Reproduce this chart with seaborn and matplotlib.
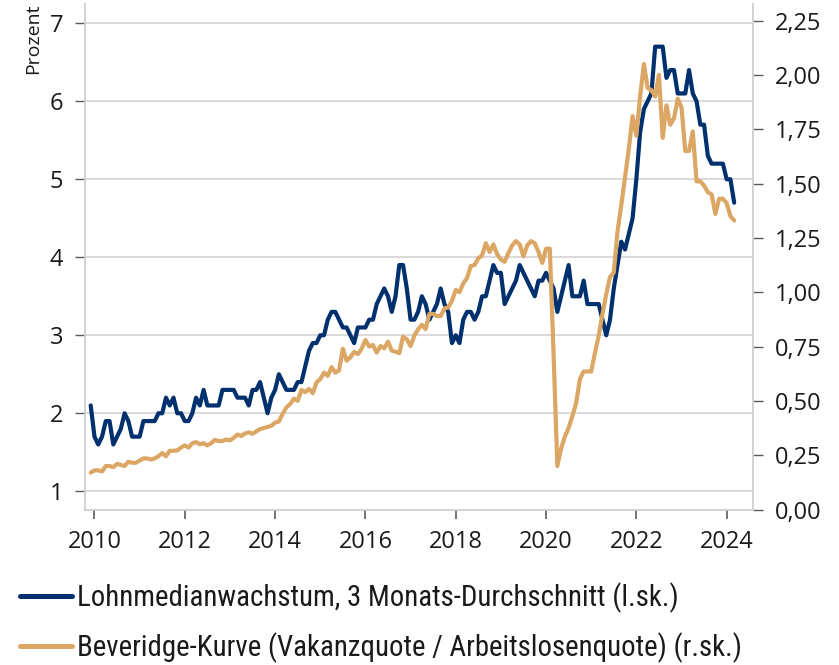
import numpy as np
import pandas as pd
import matplotlib
matplotlib.use("Agg")
import matplotlib.pyplot as plt
import seaborn as sns
from matplotlib import font_manager as fm
from matplotlib.ticker import FixedLocator, FuncFormatter
from matplotlib.lines import Line2D

# ---------------- data (monthly, Dec 2009 .. Mar 2024) ----------------
start_month = "2009-12-01"

lohn = [
    2.1, 1.7, 1.6, 1.7, 1.9, 1.9, 1.6, 1.7, 1.8, 2.0,
    1.9, 1.7, 1.7, 1.7, 1.9, 1.9, 1.9, 1.9, 2.0, 2.0,
    2.2, 2.1, 2.2, 2.0, 2.0, 1.9, 1.9, 2.0, 2.2, 2.1,
    2.3, 2.1, 2.1, 2.1, 2.1, 2.3, 2.3, 2.3, 2.3, 2.2,
    2.2, 2.2, 2.1, 2.3, 2.3, 2.4, 2.2, 2.0, 2.2, 2.3,
    2.5, 2.4, 2.3, 2.3, 2.3, 2.4, 2.4, 2.6, 2.8, 2.9,
    2.9, 3.0, 3.0, 3.2, 3.3, 3.3, 3.2, 3.1, 3.1, 3.0,
    2.9, 3.1, 3.1, 3.1, 3.2, 3.2, 3.4, 3.5, 3.6, 3.5,
    3.3, 3.5, 3.9, 3.9, 3.6, 3.2, 3.2, 3.3, 3.5, 3.4,
    3.2, 3.3, 3.4, 3.6, 3.4, 3.3, 2.9, 3.0, 2.9, 3.2,
    3.3, 3.3, 3.2, 3.3, 3.5, 3.5, 3.7, 3.9, 3.8, 3.8,
    3.4, 3.5, 3.6, 3.7, 3.9, 3.8, 3.7, 3.6, 3.5, 3.7,
    3.7, 3.8, 3.7, 3.6, 3.3, 3.5, 3.7, 3.9, 3.5, 3.5,
    3.5, 3.7, 3.4, 3.4, 3.4, 3.4, 3.2, 3.0, 3.2, 3.6,
    3.9, 4.2, 4.1, 4.3, 4.5, 5.0, 5.6, 5.9, 6.0, 6.1,
    6.7, 6.7, 6.7, 6.3, 6.4, 6.4, 6.1, 6.1, 6.1, 6.4,
    6.1, 6.0, 5.7, 5.7, 5.3, 5.2, 5.2, 5.2, 5.2, 5.0,
    5.0, 4.7,
]

beveridge = [
    0.170, 0.180, 0.180, 0.175, 0.200, 0.200, 0.195, 0.210, 0.205, 0.200,
    0.220, 0.215, 0.215, 0.225, 0.235, 0.235, 0.230, 0.235, 0.245, 0.260,
    0.245, 0.270, 0.270, 0.272, 0.285, 0.295, 0.285, 0.305, 0.310, 0.300,
    0.305, 0.295, 0.305, 0.320, 0.315, 0.315, 0.322, 0.318, 0.330, 0.345,
    0.338, 0.350, 0.355, 0.348, 0.360, 0.370, 0.375, 0.380, 0.385, 0.400,
    0.405, 0.440, 0.470, 0.485, 0.510, 0.500, 0.550, 0.540, 0.555, 0.535,
    0.585, 0.600, 0.630, 0.615, 0.655, 0.630, 0.640, 0.740, 0.685, 0.700,
    0.725, 0.715, 0.740, 0.780, 0.750, 0.757, 0.722, 0.752, 0.742, 0.772,
    0.731, 0.726, 0.719, 0.795, 0.783, 0.752, 0.800, 0.830, 0.850, 0.830,
    0.900, 0.900, 0.890, 0.890, 0.925, 0.930, 0.960, 1.010, 1.000, 1.040,
    1.065, 1.120, 1.125, 1.155, 1.170, 1.225, 1.185, 1.220, 1.175, 1.150,
    1.140, 1.180, 1.215, 1.235, 1.220, 1.165, 1.215, 1.235, 1.225, 1.185,
    1.135, 1.200, 1.200, 0.720, 0.200, 0.280, 0.335, 0.375, 0.430, 0.490,
    0.600, 0.635, 0.635, 0.635, 0.720, 0.800, 0.900, 0.990, 1.070, 1.090,
    1.280, 1.400, 1.530, 1.660, 1.810, 1.720, 1.900, 2.050, 1.940, 1.930,
    1.900, 2.000, 1.710, 1.860, 1.770, 1.800, 1.890, 1.850, 1.650, 1.650,
    1.740, 1.510, 1.510, 1.490, 1.460, 1.450, 1.360, 1.430, 1.430, 1.410,
    1.350, 1.330,
]

x_ticks = [2010, 2012, 2014, 2016, 2018, 2020, 2022, 2024]
left_ticks = [1, 2, 3, 4, 5, 6, 7]
right_ticks = [0.0, 0.25, 0.5, 0.75, 1.0, 1.25, 1.5, 1.75, 2.0, 2.25]

label_lohn = "Lohnmedianwachstum, 3 Monats-Durchschnitt (l.sk.)"
label_bev = "Beveridge-Kurve (Vakanzquote / Arbeitslosenquote) (r.sk.)"
left_unit = "Prozent"

BLUE = "#00306E"
TAN = "#DCA664"
GRID = "#d9d9d9"
SPINE = "#cfcfcf"
TICKC = "#5a5a5a"
TEXTC = "#1a1a1a"

# ---------------- fonts ----------------
sns.set_style("white")
names = {f.name for f in fm.fontManager.ttflist}
main_font = "Open Sans" if "Open Sans" in names else "DejaVu Sans"
leg_font = main_font
for cand in ["Liberation Sans Narrow", "Roboto Condensed", "Open Sans Condensed",
             "DejaVu Sans Condensed", "Noto Sans Condensed"]:
    if cand in names:
        leg_font = cand
        break
plt.rcParams["font.family"] = [main_font, "DejaVu Sans"]

# ---------------- frame ----------------
months = pd.date_range(start_month, periods=len(lohn), freq="MS")
t = months.year + (months.month - 1) / 12.0
df = pd.DataFrame({"t": t, "lohn": lohn, "bev": beveridge})

W, H = 839, 665
fig = plt.figure(figsize=(W / 100, H / 100), dpi=100)
L, R, B, T = 85, 753.3, 510, 4
ax = fig.add_axes([L / W, 1 - B / H, (R - L) / W, (B - T) / H])
ax2 = ax.twinx()

sns.lineplot(data=df, x="t", y="lohn", ax=ax, color=BLUE, lw=3.0, legend=False)
sns.lineplot(data=df, x="t", y="bev", ax=ax2, color=TAN, lw=3.0, legend=False)

ax.set_xlim(2009.79, 2024.59)
ax.set_ylim(0.76, 7.247)
ax2.set_ylim(-0.0023, 2.326)

for a in (ax, ax2):
    a.set_xlabel("")
    a.set_ylabel("")
    for s in a.spines.values():
        s.set_visible(False)

ax.spines["left"].set_visible(True)
ax.spines["bottom"].set_visible(True)
ax.spines["left"].set_color(SPINE)
ax.spines["bottom"].set_color(SPINE)
ax.spines["left"].set_linewidth(1.3)
ax.spines["bottom"].set_linewidth(1.3)
ax2.spines["right"].set_visible(True)
ax2.spines["right"].set_color(SPINE)
ax2.spines["right"].set_linewidth(1.3)

ax.yaxis.set_major_locator(FixedLocator(left_ticks))
ax.set_yticklabels([str(v) for v in left_ticks])
ax.xaxis.set_major_locator(FixedLocator(x_ticks))
ax.set_xticklabels([str(v) for v in x_ticks])
ax2.yaxis.set_major_locator(FixedLocator(right_ticks))
ax2.yaxis.set_major_formatter(FuncFormatter(lambda v, p: f"{v:.2f}".replace(".", ",")))

ax.grid(False)
ax2.grid(False)
ax.yaxis.grid(True, color=GRID, lw=1.4)
ax.set_axisbelow(True)

fs = 17
ax.tick_params(axis="y", length=7.2, width=1.0, color=TICKC, pad=8.5,
               labelsize=fs, labelcolor=TEXTC, left=True)
ax.tick_params(axis="x", length=6.5, width=1.2, color=TICKC, pad=8,
               labelsize=fs, labelcolor=TEXTC, bottom=True)
ax2.tick_params(axis="y", length=7.2, width=1.0, color=TICKC, pad=8.5,
                labelsize=fs, labelcolor=TEXTC, right=True)

fig.text(33.5 / W, 1 - 4 / H, left_unit, rotation=90, ha="center", va="top",
         fontsize=14, color=TEXTC)

# ---------------- legend ----------------
renderer = fig.canvas.get_renderer()
probe = fig.text(0, 0, label_lohn, fontsize=20, family=[leg_font, "DejaVu Sans"])
w = probe.get_window_extent(renderer).width
leg_fs = 20 * 602.0 / w
probe.set_fontsize(leg_fs)
hbox = probe.get_window_extent(renderer)
h_px = hbox.height
probe.remove()
em = leg_fs * 100 / 72.0

handles = [Line2D([], [], color=BLUE, lw=3.6), Line2D([], [], color=TAN, lw=3.6)]
leg = fig.legend(handles, [label_lohn, label_bev], loc="center left",
                 bbox_to_anchor=(20 / W, 1 - 623 / H), frameon=False,
                 borderpad=0, borderaxespad=0,
                 handlelength=52 / em, handletextpad=5 / em,
                 labelspacing=max(0.0, (50 - h_px) / em),
                 prop={"family": [leg_font, "DejaVu Sans"], "size": leg_fs})
for txt in leg.get_texts():
    txt.set_color(TEXTC)

fig.savefig("out.png", dpi=100)
